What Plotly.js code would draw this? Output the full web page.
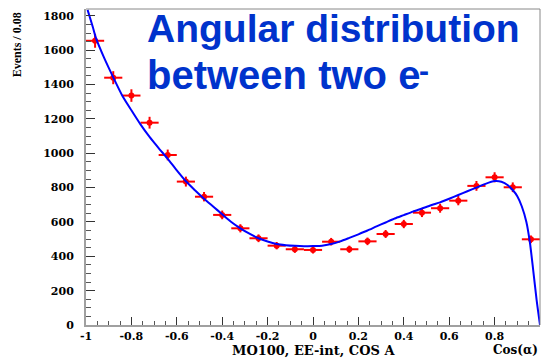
<!DOCTYPE html>
<html>
<head>
<meta charset="utf-8">
<script src="https://cdn.plot.ly/plotly-3.0.1.min.js"></script>
<style>
  html, body { margin: 0; padding: 0; background: #fff; }
  #chart { width: 541px; height: 361px; }
</style>
</head>
<body>
<div id="chart"></div>
<script>
// Measured cos(alpha) histogram, bin width 0.08
const binCenters = [-0.96, -0.88, -0.80, -0.72, -0.64, -0.56, -0.48, -0.40, -0.32, -0.24,
                    -0.16, -0.08, 0.00, 0.08, 0.16, 0.24, 0.32, 0.40, 0.48, 0.56,
                    0.64, 0.72, 0.80, 0.88, 0.96];
const events = [1655, 1440, 1336, 1178, 990, 835, 747, 641, 563, 505,
                462, 441, 437, 485, 441, 487, 530, 588, 654, 680,
                724, 810, 860, 802, 499];
const halfBin = 0.04;

// Fitted model curve, sampled
const fitX = [-0.993, -0.97, -0.956, -0.92, -0.88, -0.84, -0.80, -0.76, -0.72, -0.68,
              -0.64, -0.60, -0.56, -0.52, -0.48, -0.44, -0.40, -0.36, -0.32, -0.28,
              -0.24, -0.20, -0.16, -0.12, -0.08, -0.04, 0.00, 0.04, 0.08, 0.12,
              0.16, 0.20, 0.24, 0.28, 0.32, 0.36, 0.40, 0.44, 0.48, 0.52,
              0.56, 0.60, 0.64, 0.68, 0.72, 0.76, 0.80, 0.83, 0.86, 0.88,
              0.90, 0.92, 0.94, 0.956, 0.97, 0.985, 1.0];
const fitY = [1835, 1735, 1670, 1555, 1442, 1335, 1250, 1168, 1095, 1030,
              968, 900, 837, 785, 735, 690, 645, 600, 563, 532,
              505, 486, 472, 465, 461, 459, 460, 462, 472, 487,
              507, 528, 550, 574, 597, 620, 640, 660, 678, 697,
              714, 735, 757, 779, 800, 822, 838, 834, 812, 786,
              750, 690, 600, 476, 320, 146, 0];

const xTickVals = [-1, -0.8, -0.6, -0.4, -0.2, 0, 0.2, 0.4, 0.6, 0.8, 1];
const xTickText = ['-1', '-0.8', '-0.6', '-0.4', '-0.2', '0', '0.2', '0.4', '0.6', '0.8', '1'];
const yTickVals = [0, 200, 400, 600, 800, 1000, 1200, 1400, 1600, 1800];
const yTickText = ['0', '200', '400', '600', '800', '1000', '1200', '1400', '1600', '1800'];

const tickFont = { family: 'DejaVu Serif', size: 11, color: '#000', weight: 'bold' };
const headColor = '#0033cc';

const dataTrace = {
  x: binCenters,
  y: events,
  type: 'scatter',
  mode: 'markers',
  marker: { color: '#ff0000', size: 6, symbol: 'circle' },
  error_y: { type: 'sqrt', color: '#ff0000', thickness: 2, width: 0 },
  error_x: { type: 'constant', value: halfBin, color: '#ff0000', thickness: 2, width: 0 },
  hoverinfo: 'x+y'
};

const fitTrace = {
  x: fitX,
  y: fitY,
  type: 'scatter',
  mode: 'lines',
  line: { color: '#0000ff', width: 2, shape: 'spline', smoothing: 0.6 },
  hoverinfo: 'skip'
};

const layout = {
  width: 541,
  height: 361,
  margin: { l: 86, r: 1, t: 9, b: 36 },
  paper_bgcolor: '#fff',
  plot_bgcolor: '#fff',
  showlegend: false,
  xaxis: {
    range: [-1, 1],
    tickvals: xTickVals,
    ticktext: xTickText,
    ticks: 'inside',
    ticklen: 8,
    tickwidth: 1,
    tickcolor: '#333',
    minor: { tick0: -1, dtick: 0.05, ticks: 'inside', ticklen: 4, tickcolor: '#555', showgrid: false },
    tickfont: tickFont,
    showgrid: false,
    zeroline: false,
    showline: true,
    linecolor: '#a0a0a0',
    linewidth: 2,
    fixedrange: true
  },
  yaxis: {
    range: [0, 1840],
    tickvals: yTickVals,
    ticktext: yTickText,
    ticks: 'inside',
    ticklen: 9,
    tickwidth: 1,
    tickcolor: '#333',
    minor: { tick0: 0, dtick: 50, ticks: 'inside', ticklen: 5, tickcolor: '#555', showgrid: false },
    tickfont: tickFont,
    ticklabelstandoff: 8,
    showgrid: false,
    zeroline: false,
    showline: true,
    linecolor: '#a0a0a0',
    linewidth: 2,
    fixedrange: true
  },
  shapes: [
    { type: 'line', xref: 'paper', yref: 'paper', x0: 0, x1: 1, y0: 1, y1: 1,
      line: { color: '#888', width: 1 } },
    { type: 'line', xref: 'paper', yref: 'paper', x0: 1, x1: 1, y0: 0, y1: 1,
      line: { color: '#888', width: 1 } }
  ],
  annotations: [
    { text: 'Angular distribution', xref: 'paper', yref: 'paper',
      x: 0.130, y: 0.937, xanchor: 'left', yanchor: 'middle', showarrow: false,
      font: { family: 'Liberation Sans', size: 39, color: headColor, weight: 'bold' } },
    { text: 'between two e', xref: 'paper', yref: 'paper',
      x: 0.130, y: 0.790, xanchor: 'left', yanchor: 'middle', showarrow: false,
      font: { family: 'Liberation Sans', size: 40, color: headColor, weight: 'bold' } },
    // raised minus sign of the electron charge
    { text: '-', xref: 'paper', yref: 'paper',
      x: 0.730, y: 0.806, xanchor: 'left', yanchor: 'middle', showarrow: false,
      font: { family: 'Liberation Sans', size: 30, color: headColor, weight: 'bold' } },
    { text: 'Events / 0.08', xref: 'paper', yref: 'paper', textangle: -90,
      x: -0.150, y: 0.997, xanchor: 'center', yanchor: 'top', showarrow: false,
      font: { family: 'Liberation Serif', size: 12, color: '#000', weight: 'bold' } },
    { text: 'MO100, EE-int, COS A', xref: 'paper', yref: 'paper',
      x: 0.5, y: -0.08, xanchor: 'center', yanchor: 'middle', showarrow: false,
      font: { family: 'DejaVu Serif', size: 13, color: '#000', weight: 'bold' } },
    { text: 'Cos(α)', xref: 'paper', yref: 'paper',
      x: 1.0, y: -0.08, xanchor: 'right', yanchor: 'middle', showarrow: false,
      font: { family: 'DejaVu Serif', size: 12, color: '#000', weight: 'bold' } }
  ]
};

Plotly.newPlot('chart', [dataTrace, fitTrace], layout, { displayModeBar: false, staticPlot: true });
</script>
</body>
</html>
